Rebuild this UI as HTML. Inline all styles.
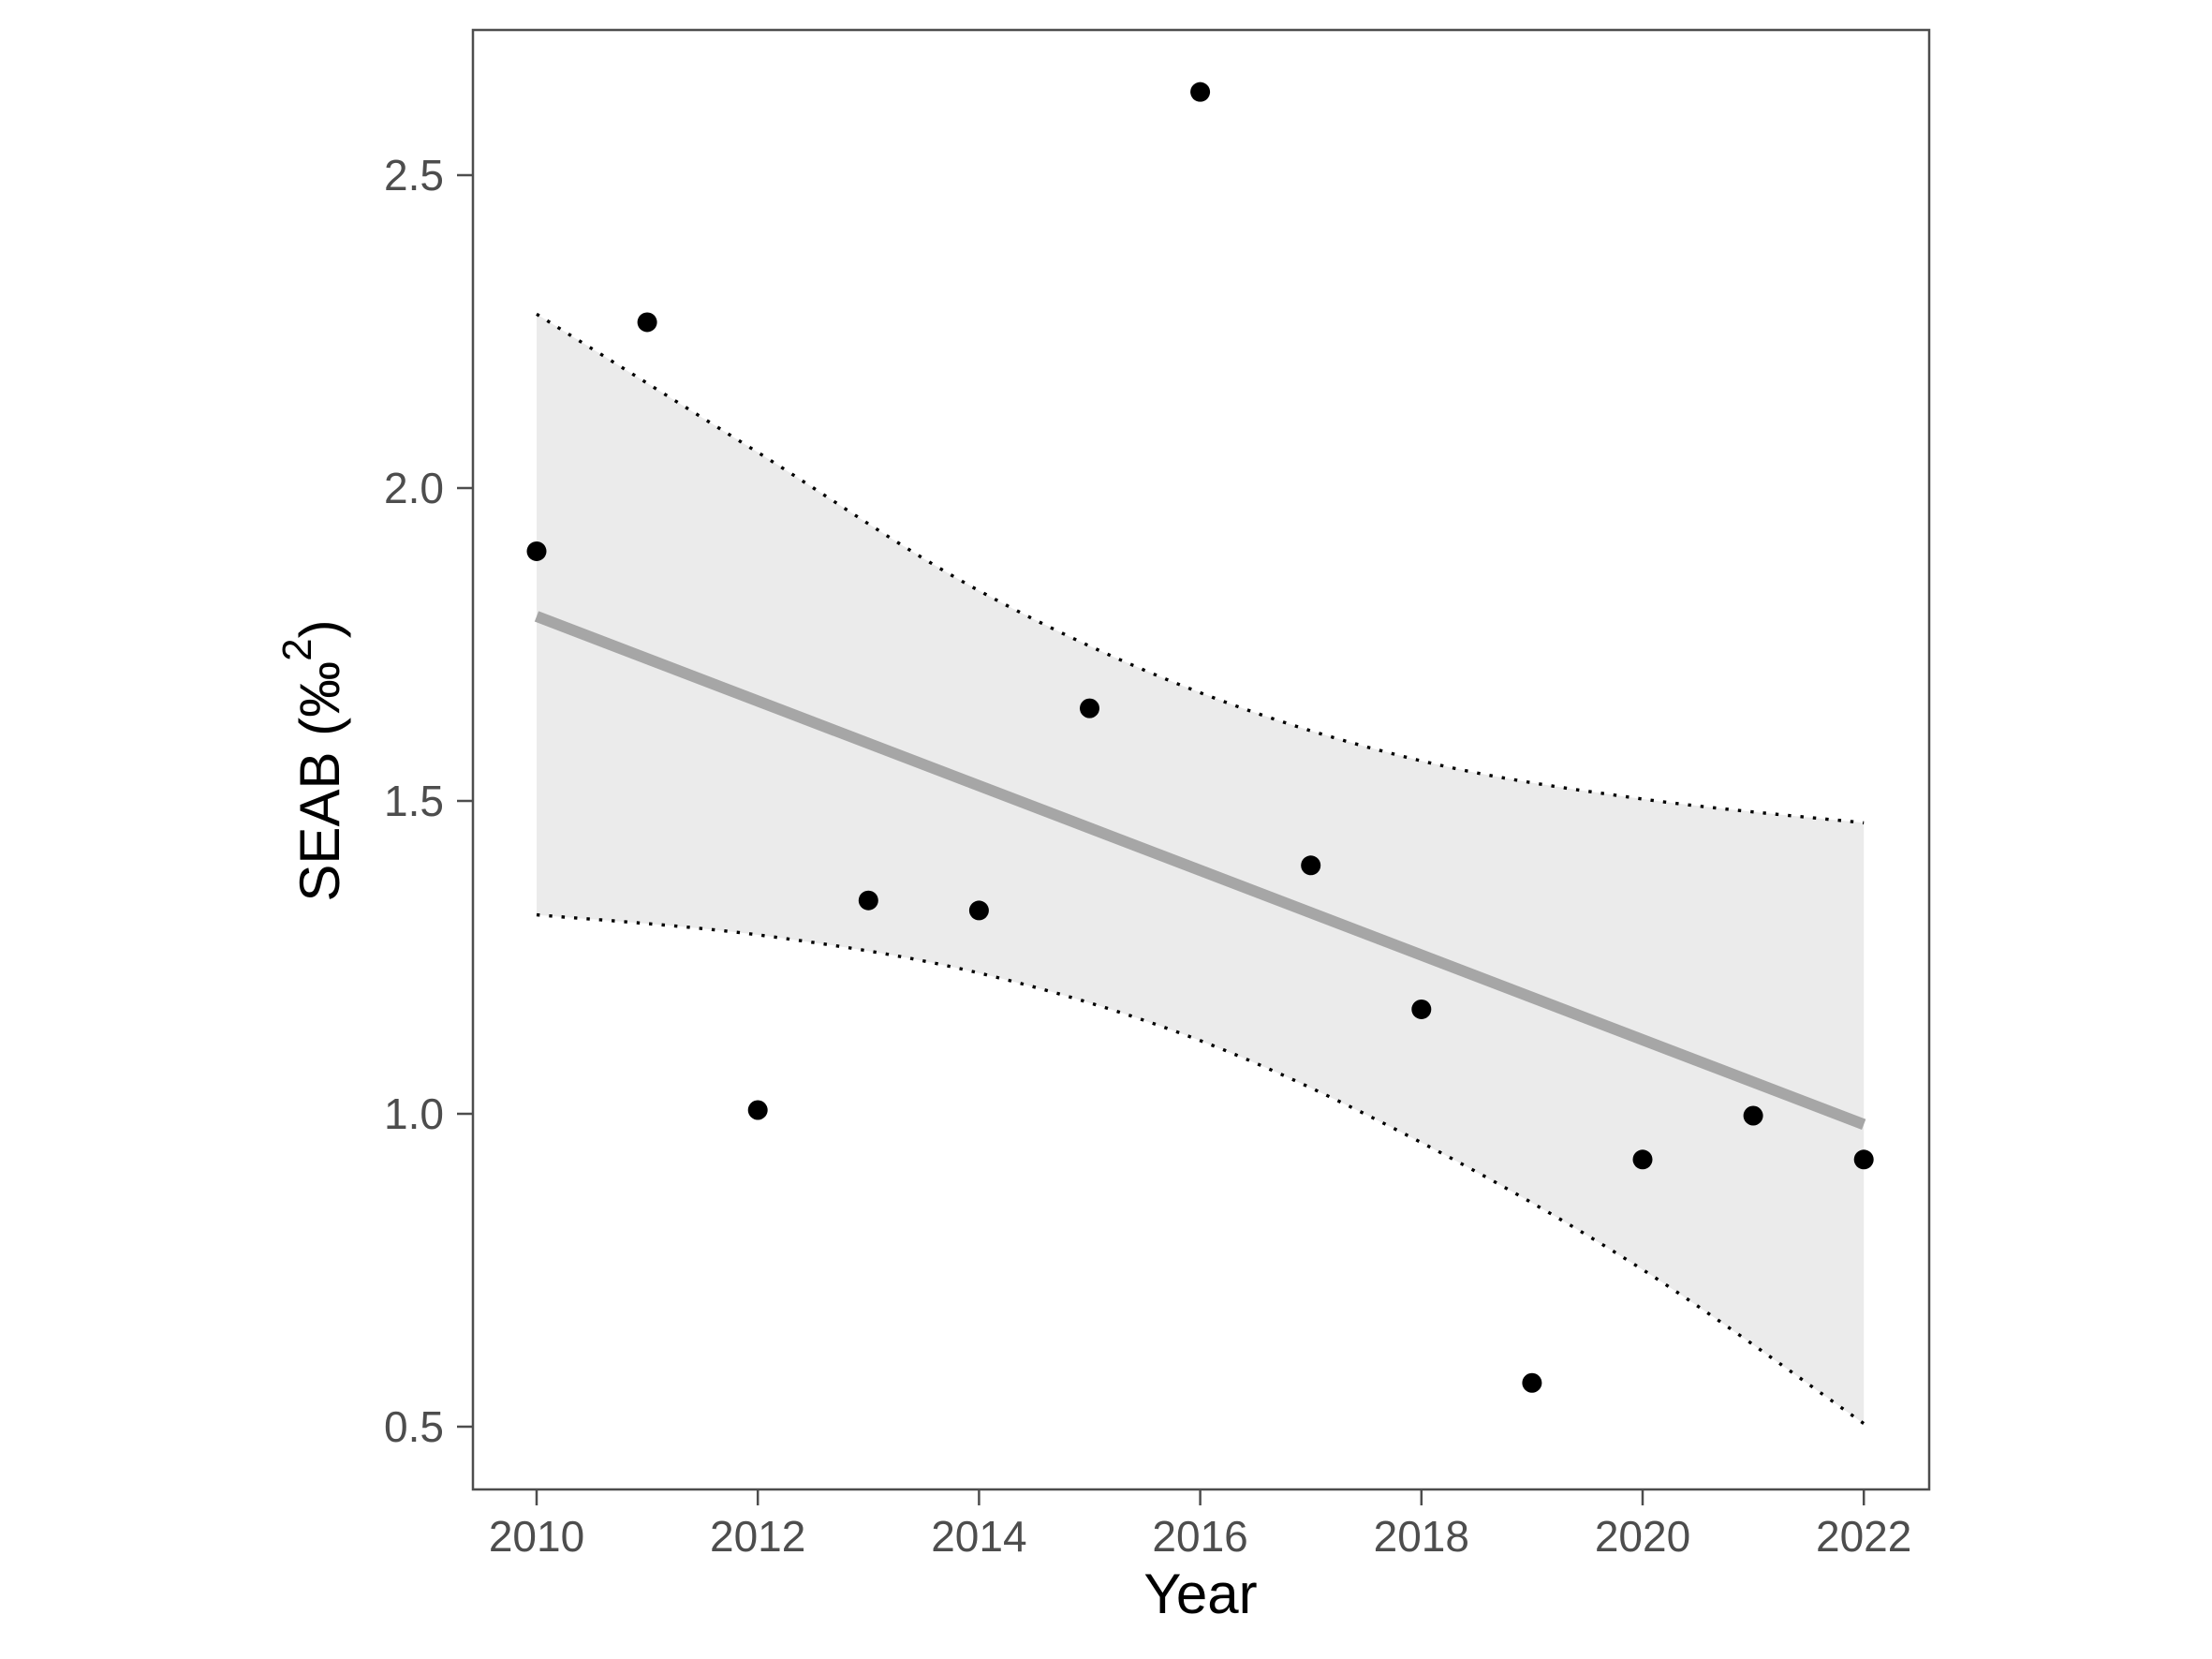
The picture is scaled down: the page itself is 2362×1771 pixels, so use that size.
<!DOCTYPE html>
<html><head><meta charset="utf-8"><style>
html,body{margin:0;padding:0;background:#fff}
svg{display:block}
text{font-family:"Liberation Sans",sans-serif}
</style></head><body>
<svg id="chart" width="2362" height="1771" viewBox="0 0 2362 1771" xmlns="http://www.w3.org/2000/svg">
<g id="ribbon-layer"></g>
<g id="line-layer"></g>
<g id="point-layer"></g>
<rect x="505" y="32" width="1555" height="1558" fill="none" stroke="#4D4D4D" stroke-width="2.5"/>
<g id="axis-layer"></g>
<text x="1282" y="1722" text-anchor="middle" font-size="60" fill="#000">Year</text>
<text transform="translate(362,812) rotate(-90)" text-anchor="middle" font-size="60" fill="#000">SEAB (‰<tspan dy="-30" font-size="44">2</tspan><tspan dy="30">)</tspan></text>
</svg>
<script>
const years = [2010,2011,2012,2013,2014,2015,2016,2017,2018,2019,2020,2021,2022];
const seab = [1.899,2.265,1.006,1.341,1.325,1.648,2.633,1.397,1.167,0.570,0.927,0.997,0.927];
const ciYears = [2010,2012,2014,2016,2018,2020,2022];
const ciUpper = [2.278,2.057,1.836,1.673,1.564,1.503,1.465];
const ciLower = [1.318,1.286,1.225,1.117,0.954,0.751,0.505];
const fitYears = [2010,2022];
const fitValues = [1.795,0.983];
const xTicks = [2010,2012,2014,2016,2018,2020,2022];
const yTicks = [0.5,1.0,1.5,2.0,2.5];
const yTickLabels = ["0.5","1.0","1.5","2.0","2.5"];

const NS = "http://www.w3.org/2000/svg";
function xs(v){ return 573 + (v-2010)*118.1; }
function ys(v){ return 1523 - (v-0.5)*668; }
function mk(tag, attrs, parent){
  const e = document.createElementNS(NS, tag);
  for (const k in attrs) e.setAttribute(k, attrs[k]);
  parent.appendChild(e); return e;
}
function smooth(pts){
  let d = "M"+pts[0][0]+","+pts[0][1];
  for (let i=0;i<pts.length-1;i++){
    const p0=pts[Math.max(0,i-1)], p1=pts[i], p2=pts[i+1], p3=pts[Math.min(pts.length-1,i+2)];
    const c1=[p1[0]+(p2[0]-p0[0])/6, p1[1]+(p2[1]-p0[1])/6];
    const c2=[p2[0]-(p3[0]-p1[0])/6, p2[1]-(p3[1]-p1[1])/6];
    d += " C"+c1[0]+","+c1[1]+" "+c2[0]+","+c2[1]+" "+p2[0]+","+p2[1];
  }
  return d;
}
const up = ciYears.map((y,i)=>[xs(y), ys(ciUpper[i])]);
const lo = ciYears.map((y,i)=>[xs(y), ys(ciLower[i])]);
const rib = document.getElementById('ribbon-layer');
const upD = smooth(up);
const loRev = lo.slice().reverse();
const loRevD = smooth(loRev).replace(/^M/, " L");
const ribbon = mk('path', {d: upD + loRevD + " Z", fill:"#EBEBEB", stroke:"none"}, rib);


const upperLine = mk('path', {d: upD, fill:"none", stroke:"#000", "stroke-width":3.4, "stroke-dasharray":"3.4 10"}, rib);


const lowerLine = mk('path', {d: smooth(lo), fill:"none", stroke:"#000", "stroke-width":3.4, "stroke-dasharray":"3.4 10"}, rib);



const ll = document.getElementById('line-layer');
const fit = mk('line', {x1:xs(fitYears[0]), y1:ys(fitValues[0]), x2:xs(fitYears[1]), y2:ys(fitValues[1]), stroke:"#A6A6A6", "stroke-width":12}, ll);



const pl = document.getElementById('point-layer');
years.forEach((y,i)=>{
  const c = mk('circle', {cx:xs(y), cy:ys(seab[i]), r:10.5, fill:"#000"}, pl);
  
  
});

const al = document.getElementById('axis-layer');
xTicks.forEach(t=>{
  const l = mk('line', {x1:xs(t), y1:1590, x2:xs(t), y2:1607, stroke:"#4D4D4D", "stroke-width":2.5}, al);
  
  
  const tx = mk('text', {x:xs(t), y:1656, "text-anchor":"middle", "font-size":46, fill:"#4D4D4D"}, al);
  tx.textContent = String(t);
  
  
});
yTicks.forEach((t,i)=>{
  const l = mk('line', {x1:488, y1:ys(t), x2:505, y2:ys(t), stroke:"#4D4D4D", "stroke-width":2.5}, al);
  
  
  const tx = mk('text', {x:474, y:ys(t)+16, "text-anchor":"end", "font-size":46, fill:"#4D4D4D"}, al);
  tx.textContent = yTickLabels[i];
  
  
});
</script>
</body></html>
